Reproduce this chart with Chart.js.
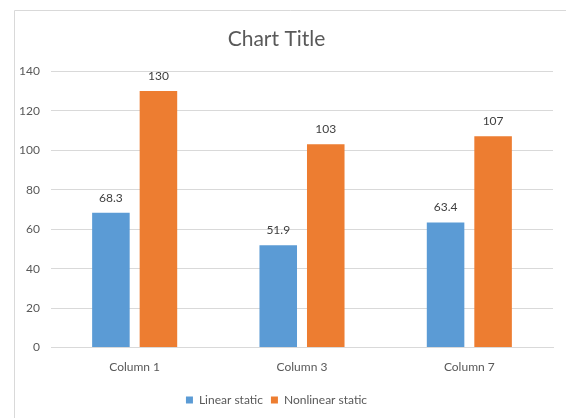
<!DOCTYPE html>
<html>
<head>
<meta charset="utf-8">
<script src="https://cdn.jsdelivr.net/npm/chart.js@4/dist/chart.umd.min.js"></script>
<style>
  html, body { margin: 0; padding: 0; background: #fff; }
  #wrap { width: 566px; height: 418px; }
</style>
</head>
<body>
<div id="wrap"><canvas id="chart" width="566" height="418"></canvas></div>
<script>
const categories = ['Column 1', 'Column 3', 'Column 7'];
const linearStatic = [68.3, 51.9, 63.4];
const nonlinearStatic = [130, 103, 107];
const seriesNames = ['Linear static', 'Nonlinear static'];

const FONT = "Lato, 'Open Sans', sans-serif";

// frame like the Excel chart area border
const framePlugin = {
  id: 'frame',
  beforeDraw(chart) {
    const ctx = chart.ctx;
    ctx.save();
    ctx.strokeStyle = '#d9d9d9';
    ctx.lineWidth = 1;
    ctx.beginPath();
    ctx.moveTo(14.5, 418);
    ctx.lineTo(14.5, 10.5);
    ctx.lineTo(566, 10.5);
    ctx.stroke();
    ctx.restore();
  }
};

// value labels above each bar
const valueLabels = {
  id: 'valueLabels',
  afterDatasetsDraw(chart) {
    const ctx = chart.ctx;
    ctx.save();
    ctx.font = '12px ' + FONT;
    ctx.fillStyle = '#404040';
    ctx.textAlign = 'center';
    ctx.textBaseline = 'middle';
    chart.data.datasets.forEach((ds, i) => {
      chart.getDatasetMeta(i).data.forEach((bar, j) => {
        ctx.fillText(String(ds.data[j]), bar.x, bar.y - 15);
      });
    });
    ctx.restore();
  }
};

new Chart(document.getElementById('chart'), {
  type: 'bar',
  data: {
    labels: categories,
    datasets: [
      { label: seriesNames[0], data: linearStatic, backgroundColor: '#5b9bd5',
        categoryPercentage: 0.568, barPercentage: 0.79 },
      { label: seriesNames[1], data: nonlinearStatic, backgroundColor: '#ed7d31',
        categoryPercentage: 0.568, barPercentage: 0.79 }
    ]
  },
  options: {
    responsive: false,
    animation: false,
    layout: { padding: { left: 0, right: 13, top: 0, bottom: 2 } },
    plugins: {
      title: {
        display: true,
        text: 'Chart Title',
        color: '#595959',
        font: { family: FONT, size: 21, weight: 'normal' },
        padding: { top: 27, bottom: 19 }
      },
      legend: {
        position: 'bottom',
        labels: {
          color: '#595959',
          font: { family: FONT, size: 12 },
          boxWidth: 7, boxHeight: 7,
          padding: 8
        }
      },
      tooltip: { enabled: false }
    },
    scales: {
      x: {
        grid: { display: false, drawTicks: false },
        border: { color: '#d9d9d9' },
        ticks: { color: '#595959', font: { family: FONT, size: 12 }, padding: 12 }
      },
      y: {
        min: 0, max: 140,
        ticks: { stepSize: 20, color: '#595959', font: { family: FONT, size: 12 }, padding: 11 },
        grid: { color: '#d9d9d9', drawTicks: false },
        border: { display: false },
        afterFit(scale) { scale.width = 51; }
      }
    }
  },
  plugins: [framePlugin, valueLabels]
});
</script>
</body>
</html>
